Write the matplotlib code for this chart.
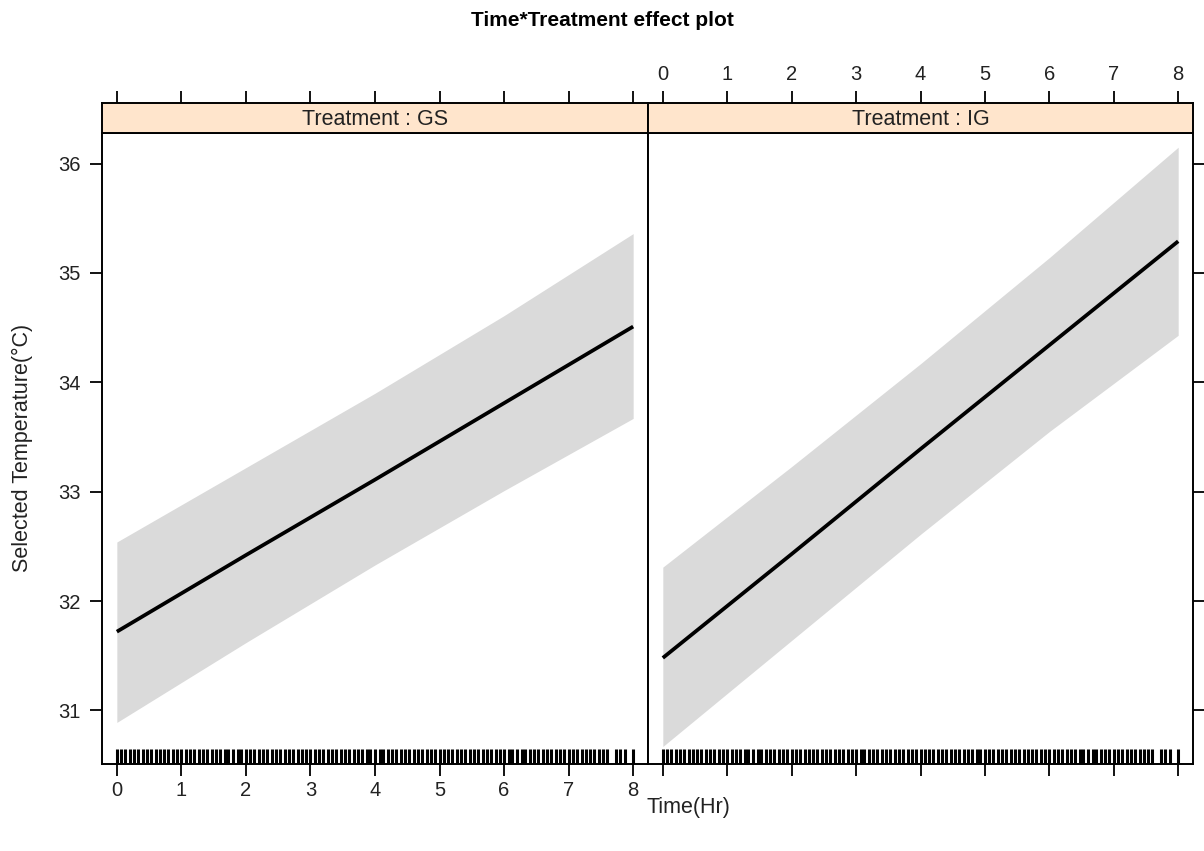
import matplotlib
matplotlib.use("Agg")
import matplotlib.pyplot as plt
import numpy as np

plt.rcParams['font.family'] = ['Liberation Sans', 'DejaVu Sans']

# ---- data ----
panels = ["GS", "IG"]
time_pts = [0, 2, 4, 6, 8]
fit_GS = [31.72, 32.42, 33.11, 33.81, 34.51]
upper_GS = [32.54, 33.22, 33.90, 34.61, 35.36]
lower_GS = [30.89, 31.62, 32.33, 33.01, 33.67]
fit_IG = [31.48, 32.43, 33.39, 34.34, 35.29]
upper_IG = [32.31, 33.23, 34.17, 35.14, 36.15]
lower_IG = [30.67, 31.64, 32.61, 33.55, 34.43]
rug_times = [0.00, 0.07, 0.13, 0.20, 0.27, 0.33, 0.40, 0.47, 0.53, 0.60,
             0.67, 0.73, 0.80, 0.87, 0.93, 1.00, 1.07, 1.13, 1.20, 1.27,
             1.33, 1.40, 1.47, 1.53, 1.60, 1.67, 1.73, 1.80, 1.87, 1.93,
             2.00, 2.07, 2.13, 2.20, 2.27, 2.33, 2.40, 2.47, 2.53, 2.60,
             2.67, 2.73, 2.80, 2.87, 2.93, 3.00, 3.07, 3.13, 3.20, 3.27,
             3.33, 3.40, 3.47, 3.53, 3.60, 3.67, 3.73, 3.80, 3.87, 3.93,
             4.00, 4.07, 4.13, 4.20, 4.27, 4.33, 4.40, 4.47, 4.53, 4.60,
             4.67, 4.73, 4.80, 4.87, 4.93, 5.00, 5.07, 5.13, 5.20, 5.27,
             5.33, 5.40, 5.47, 5.53, 5.60, 5.67, 5.73, 5.80, 5.87, 5.93,
             6.00, 6.07, 6.13, 6.20, 6.27, 6.33, 6.40, 6.47, 6.53, 6.60,
             6.67, 6.73, 6.80, 6.87, 6.93, 7.00, 7.07, 7.13, 7.20, 7.27,
             7.33, 7.40, 7.47, 7.53, 7.60, 7.73, 7.80, 7.87, 8.00]
x_ticks = [0, 1, 2, 3, 4, 5, 6, 7, 8]
y_ticks = [31, 32, 33, 34, 35, 36]

series = {
    "GS": (fit_GS, upper_GS, lower_GS),
    "IG": (fit_IG, upper_IG, lower_IG),
}

W, H = 1204, 851
fig = plt.figure(figsize=(W / 100, H / 100), dpi=100)

def fx(px):
    return px / W

def fy(py):
    return 1 - py / H

panel_x = [(102, 648), (648, 1193)]
plot_top, plot_bot = 133, 764
strip_top = 103

xlim = (-0.23, 8.23)
ylim = (30.51, 36.28)
lw_frame = 1.4
fs_tick = 14.5
fs_lab = 15.5
tick_len = 8.5
tick_col = "#222222"

for i, name in enumerate(panels):
    x0, x1 = panel_x[i]
    ax = fig.add_axes([fx(x0), fy(plot_bot), fx(x1 - x0), fy(plot_top) - fy(plot_bot)])
    fit, up, lo = series[name]
    ax.fill_between(time_pts, lo, up, color="#DADADA", linewidth=0)
    ax.plot(time_pts, fit, color="black", linewidth=2.7, solid_capstyle="butt")
    ax.vlines(rug_times, 0, 0.024, transform=ax.get_xaxis_transform(),
              color="black", linewidth=2.2)
    ax.set_xlim(*xlim)
    ax.set_ylim(*ylim)
    for s in ax.spines.values():
        s.set_linewidth(lw_frame)
    ax.set_xticks(x_ticks)
    ax.set_yticks(y_ticks)
    ax.tick_params(direction="out", length=tick_len, width=1.3, labelsize=fs_tick,
                   colors="black", labelcolor=tick_col)
    ax.tick_params(axis="x", pad=4)
    ax.tick_params(axis="y", pad=7)
    if i == 0:
        ax.tick_params(axis="x", bottom=True, labelbottom=True, top=False)
        ax.tick_params(axis="y", left=True, labelleft=True, right=False)
    else:
        ax.tick_params(axis="x", bottom=True, labelbottom=False, top=False)
        ax.tick_params(axis="y", left=False, labelleft=False, right=True, labelright=False)

    sax = fig.add_axes([fx(x0), fy(plot_top), fx(x1 - x0), fy(strip_top) - fy(plot_top)])
    sax.set_facecolor("#FFE5CC")
    sax.set_xlim(*xlim)
    sax.set_ylim(0, 1)
    for s in sax.spines.values():
        s.set_linewidth(lw_frame)
    sax.set_xticks(x_ticks)
    sax.set_yticks([])
    sax.tick_params(axis="x", direction="out", length=tick_len, width=1.3, labelsize=fs_tick,
                    labelcolor=tick_col,
                    bottom=False, labelbottom=False, top=True, labeltop=(i == 1), pad=5)
    sax.text(0.5, 0.45, f"Treatment : {name}", transform=sax.transAxes,
             ha="center", va="center", fontsize=fs_lab, color=tick_col)

fig.text(0.5, fy(20), "Time*Treatment effect plot", ha="center", va="center",
         fontsize=15, fontweight="bold")
fig.text(fx(688), fy(808), "Time(Hr)", ha="center", va="center", fontsize=fs_lab,
         color=tick_col)
fig.text(fx(22), fy(448), "Selected Temperature(°C)", ha="center", va="center",
         rotation=90, fontsize=fs_lab, color=tick_col)

fig.savefig("out.png", dpi=100)
